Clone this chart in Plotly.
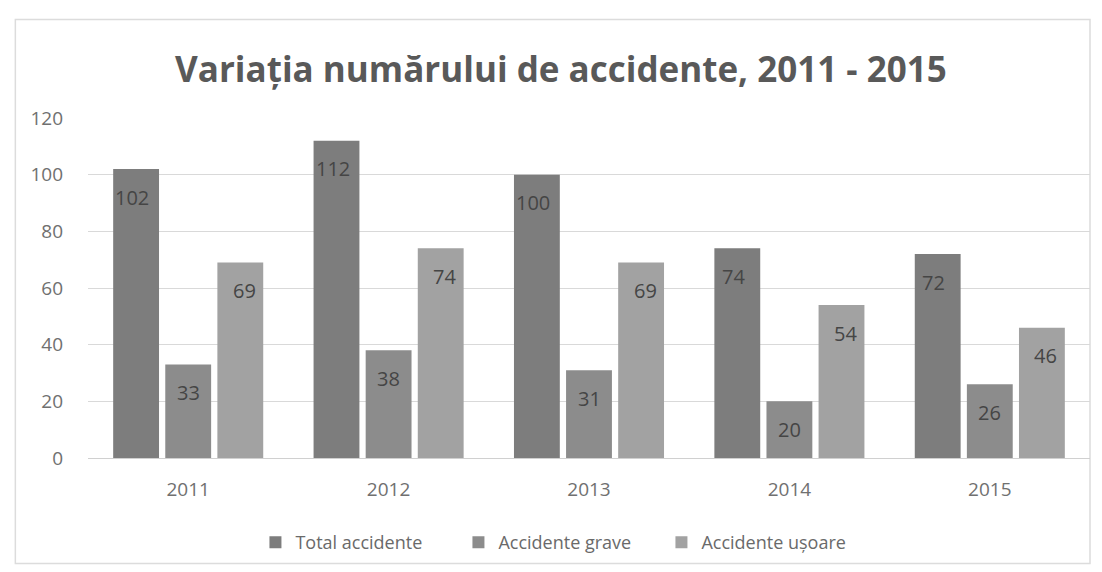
import plotly.graph_objects as go

years = ["2011", "2012", "2013", "2014", "2015"]
total_accidente = [102, 112, 100, 74, 72]
accidente_grave = [33, 38, 31, 20, 26]
accidente_usoare = [69, 74, 69, 54, 46]

series = [
    ("Total accidente", total_accidente, "#7d7d7d"),
    ("Accidente grave", accidente_grave, "#8c8c8c"),
    ("Accidente ușoare", accidente_usoare, "#a2a2a2"),
]

FONT = "'Open Sans', sans-serif"

fig = go.Figure()
for name, vals, color in series:
    fig.add_trace(go.Bar(
        name=name, x=years, y=vals,
        marker=dict(color=color, line=dict(width=0)),
        offsetgroup=name,
    ))

# value labels just inside the top of each bar
n = len(series)
for i, (name, vals, color) in enumerate(series):
    for j, v in enumerate(vals):
        fig.add_annotation(
            x=j, y=v, xref="x", yref="y",
            text=str(v), showarrow=False,
            xshift=(i - (n - 1) / 2) * 56,
            yshift=-28,
            font=dict(family=FONT, size=20, color="#454545"),
        )

fig.update_layout(
    width=1102, height=572,
    margin=dict(l=88, r=12, t=118, b=113),
    paper_bgcolor="white", plot_bgcolor="white",
    barmode="group", bargap=0.22, bargroupgap=0.12,
    title=dict(
        text="<b>Variația numărului de accidente, 2011 - 2015</b>",
        x=0.509, xanchor="center", y=0.878, yanchor="middle",
        font=dict(family=FONT, size=35, color="#595959"),
    ),
    legend=dict(
        orientation="h", x=0.471, xanchor="center", y=-0.245, yanchor="middle",
        font=dict(family=FONT, size=18, color="#6a6a6a"),
        itemwidth=30, entrywidth=158, traceorder="normal",
    ),
    shapes=[dict(
        type="rect", xref="paper", yref="paper",
        x0=-0.0725, x1=1.0, y0=-0.31, y1=1.29,
        line=dict(color="#dcdcdc", width=1.5), layer="below",
    )],
)
fig.update_yaxes(
    range=[0, 120], dtick=20, showgrid=True, gridcolor="#d9d9d9", gridwidth=1,
    zeroline=True, zerolinecolor="#d0d0d0", zerolinewidth=1,
    tickfont=dict(family=FONT, size=19, color="#707070"),
    ticklabelstandoff=24, showline=False,
)
fig.update_xaxes(
    tickfont=dict(family=FONT, size=19, color="#707070"),
    ticklabelstandoff=18, showline=False, type="category",
)

fig.write_html("out.html")
